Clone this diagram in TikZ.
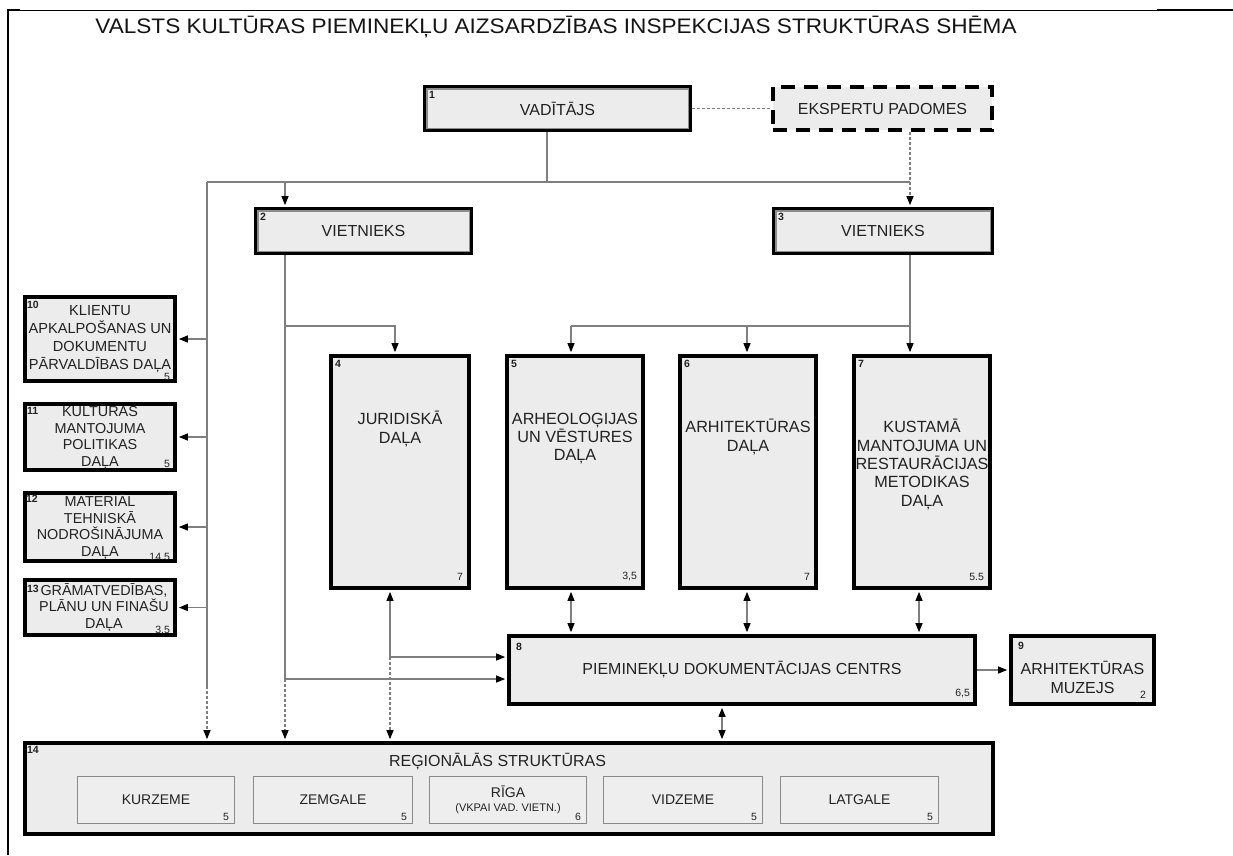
\documentclass[tikz,border=0pt]{standalone}
\usepackage{fontspec}
\setmainfont{Liberation Sans}
\usepackage{graphicx}
\usetikzlibrary{arrows.meta}
\definecolor{boxfill}{HTML}{ECECEC}
\definecolor{subfill}{HTML}{EEEEEE}
\definecolor{txt}{HTML}{222222}
\definecolor{linegray}{HTML}{7F7F7F}
\definecolor{innergray}{HTML}{8C8C8C}
\definecolor{subgray}{HTML}{8A8A8A}
\newcommand\fTitle{\fontsize{21}{23}\selectfont}
\newcommand\fBig{\fontsize{16}{18.5}\selectfont}
\newcommand\fMid{\fontsize{16.2}{18.4}\selectfont}
\newcommand\fSide{\fontsize{14.6}{17.8}\selectfont}
\newcommand\fSideB{\fontsize{14.4}{16.6}\selectfont}
\newcommand\fSub{\fontsize{14}{16}\selectfont}
\newcommand\fTiny{\fontsize{11}{12}\selectfont}
\newcommand\fNum{\fontsize{10.5}{10.5}\selectfont\bfseries}
\newcommand\fCnt{\fontsize{10.5}{10.5}\selectfont}
\begin{document}
\begin{tikzpicture}[x=1pt,y=-1pt,
  every node/.style={text=txt, inner sep=0pt},
  box/.style={draw=black, line width=3.6pt, fill=boxfill, align=center, font=\fBig},
  dashbox/.style={box, dash pattern=on 14pt off 9pt},
  side/.style={box, font=\fSide},
  sub/.style={draw=subgray, line width=1.2pt, fill=subfill, align=center, font=\fSub},
  num/.style={font=\fNum, anchor=north west, xshift=6pt, yshift=-6pt},
  cnt/.style={font=\fCnt, anchor=south east, xshift=-7pt, yshift=3.5pt},
  mt/.style={align=center, font=\fMid, anchor=center},
  conn/.style={draw=linegray, line width=1.1pt},
  arr/.style={conn, -{Triangle[length=9pt,width=7pt,color=black]}, shorten >=1.8pt},
  darr/.style={conn, {Triangle[length=9pt,width=7pt,color=black]}-{Triangle[length=9pt,width=7pt,color=black]}, shorten >=1.8pt, shorten <=1.8pt},
  dsh/.style={conn, dash pattern=on 3pt off 2pt},
  dsharr/.style={arr, dash pattern=on 3pt off 2pt},
  innerframe/.style={draw=innergray, line width=1.5pt},
]
\useasboundingbox (0,0) rectangle (1233,855);
% frame
\draw[line width=0.8pt] (8,10) -- (1233,10);
\draw[line width=2.2pt] (8,10) -- (20,10);
\draw[line width=2.2pt] (1157,10) -- (1233,10);
\draw[line width=2.2pt] (8,9) -- (8,855);

\node[font=\fTitle, text=black!92] (title) at (556,27) {\scalebox{1.075}[1]{VALSTS KULTŪRAS PIEMINEKĻU AIZSARDZĪBAS INSPEKCIJAS STRUKTŪRAS SHĒMA}};

% top boxes
\node[box, minimum width=265.5pt, minimum height=43.5pt, label={[num]north west:1}] (b1) at (557.5,108.5) {VADĪTĀJS};
\node[dashbox, minimum width=219.5pt, minimum height=43.5pt] (ek) at (882.5,108.5) {EKSPERTU PADOMES};
\node[box, minimum width=215.5pt, minimum height=44.5pt, label={[num]north west:2}] (b2) at (363.5,231) {VIETNIEKS};
\node[box, minimum width=218.5pt, minimum height=44.5pt, label={[num]north west:3}] (b3) at (883,231) {VIETNIEKS};
\foreach \n in {b1,b2,b3}
  \draw[innerframe] ([shift={(3.8pt,-3.8pt)}]\n.north west) rectangle ([shift={(-3.8pt,3.8pt)}]\n.south east);

% departments
\node[box, minimum width=138.5pt, minimum height=232.5pt, label={[num]north west:4}, label={[cnt,xshift=-1pt,yshift=6pt]south east:7},
  label={[mt,yshift=43pt]center:JURIDISKĀ\\DAĻA}] (b4) at (400,472) {};
\node[box, minimum width=136.5pt, minimum height=232.5pt, label={[num]north west:5}, label={[cnt,xshift=-1pt,yshift=6pt]south east:{3,5}},
  label={[mt,yshift=33.5pt]center:ARHEOLOĢIJAS\\UN VĒSTURES\\DAĻA}] (b5) at (575,472) {};
\node[box, minimum width=136.5pt, minimum height=232.5pt, label={[num]north west:6}, label={[cnt,xshift=-1pt,yshift=6pt]south east:7},
  label={[mt,yshift=35pt]center:ARHITEKTŪRAS\\DAĻA}] (b6) at (748,472) {};
\node[box, minimum width=136.5pt, minimum height=232.5pt, label={[num]north west:7}, label={[cnt,xshift=-1pt,yshift=6pt]south east:5.5},
  label={[mt,yshift=7.5pt]center:KUSTAMĀ\\MANTOJUMA UN\\RESTAURĀCIJAS\\METODIKAS\\DAĻA}] (b7) at (922,472) {};

% documentation centre and museum
\node[box, minimum width=466.5pt, minimum height=68.5pt, label={[num,yshift=-3pt,xshift=3pt]north west:8}, label={[cnt,yshift=5pt]south east:{6,5}}] (b8) at (742,670) {PIEMINEKĻU DOKUMENTĀCIJAS CENTRS};
\node[box, minimum width=143.5pt, minimum height=68.5pt, label={[num,xshift=3pt,yshift=-2pt]north west:9}, label={[cnt,xshift=-3pt,yshift=4pt]south east:2},
  label={[mt,font=\fBig,yshift=-7.5pt]center:ARHITEKTŪRAS\\MUZEJS}] (b9) at (1082.5,670) {};

% side departments
\node[side, minimum width=150.5pt, minimum height=84.5pt, label={[num,xshift=-2pt]north west:10}, label={[cnt,yshift=-1pt]south east:5}] (b10) at (100,339) {KLIENTU\\APKALPOŠANAS UN\\DOKUMENTU\\PĀRVALDĪBAS DAĻA};
\node[side, font=\fSideB, minimum width=150.5pt, minimum height=66.5pt, label={[num,xshift=-2pt,yshift=1pt]north west:11}, label={[cnt,yshift=1pt]south east:5}] (b11) at (100,437) {KULTŪRAS\\MANTOJUMA\\POLITIKAS\\DAĻA};
\node[side, font=\fSideB, minimum width=150.5pt, minimum height=68.5pt, label={[num,xshift=-3pt,yshift=2pt]north west:12}, label={[cnt,yshift=-1pt]south east:14.5}] (b12) at (100,527) {MATERIĀL\\TEHNISKĀ\\NODROŠINĀJUMA\\DAĻA};
\node[side, minimum width=150.5pt, minimum height=55.5pt, label={[num,xshift=-2pt,yshift=-1pt]north west:13}, label={[cnt,yshift=-1pt]south east:{3,5}},
  label={[mt,font=\fSideB,xshift=4pt]center:GRĀMATVEDĪBAS,\\PLĀNU UN FINAŠU\\DAĻA}] (b13) at (100,607.5) {};

% regional structures
\node[box, minimum width=968.5pt, minimum height=91.5pt, label={[num,xshift=-2pt,yshift=1pt]north west:14},
  label={[mt,font=\fBig,xshift=-11.5pt,yshift=26.5pt]center:REĢIONĀLĀS STRUKTŪRAS}] (b14) at (509,788.5) {};
\node[sub, minimum width=157pt, minimum height=47pt, label={[cnt,xshift=1pt,yshift=0pt]south east:5}] (r1) at (156,800) {KURZEME};
\node[sub, minimum width=159pt, minimum height=47pt, label={[cnt,xshift=1pt,yshift=0pt]south east:5}] (r2) at (333,800) {ZEMGALE};
\node[sub, minimum width=157pt, minimum height=47pt, label={[cnt,xshift=1pt,yshift=0pt]south east:6}] (r3) at (508,800) {RĪGA\\[-2pt]{\fTiny (VKPAI VAD. VIETN.)}};
\node[sub, minimum width=159pt, minimum height=47pt, label={[cnt,xshift=1pt,yshift=0pt]south east:5}] (r4) at (683,800) {VIDZEME};
\node[sub, minimum width=158pt, minimum height=47pt, label={[cnt,xshift=1pt,yshift=0pt]south east:5}] (r5) at (859.5,800) {LATGALE};

% junction coordinates
\coordinate (cA) at (547,182);
\coordinate (cL) at (207,182);
\coordinate (cR) at (910,182);
\coordinate (c2) at (285,182);
\coordinate (cLs) at (207,686);
\coordinate (c2b) at (285,326);
\coordinate (c2k) at (285,679);
\coordinate (c4t) at (395,326);
\coordinate (c4k) at (390,657);
\coordinate (c3b) at (910,326);
\coordinate (c5) at (571,326);
\coordinate (c6) at (747,326);
\coordinate (c7) at (919,612);
\coordinate (c8) at (722,722);

% connectors
\draw[conn] (b1.south -| cA) -- (cA);
\draw[conn] (cL) -- (cR);
\draw[arr] (c2) -- (b2.north -| c2);
\draw[dsh] (b1.east) -- (ek.west);
\draw[dsharr] (ek.south -| cR) -- (b3.north -| cR);
\draw[conn] (cL) -- (cLs);
\draw[dsharr] (cLs) -- (b14.north -| cLs);
\foreach \b in {b10,b11,b12,b13}
  \draw[arr] (\b.east -| cL) -- (\b.east);
\draw[conn] (b2.south -| c2) -- (c2k);
\draw[arr] (c2b) -- (c4t) -- (b4.north -| c4t);
\draw[arr] (c2k) -- (c2k -| b8.west);
\draw[dsharr] (c2k) -- (b14.north -| c2k);
\draw[arr] (c4k) -- (b4.south -| c4k);
\draw[arr] (c4k) -- (c4k -| b8.west);
\draw[dsharr] (c4k) -- (b14.north -| c4k);
\draw[conn] (b3.south -| c3b) -- (c3b) -- (c5);
\draw[arr] (c5) -- (b5.north -| c5);
\draw[arr] (c6) -- (b6.north -| c6);
\draw[arr] (c3b) -- (b7.north -| c3b);
\draw[darr] (b5.south -| c5) -- (b8.north -| c5);
\draw[darr] (b6.south -| c6) -- (b8.north -| c6);
\draw[darr] (b7.south -| c7) -- (b8.north -| c7);
\draw[arr] (b8.east) -- (b9.west);
\draw[darr] (b8.south -| c8) -- (b14.north -| c8);
\end{tikzpicture}
\end{document}
